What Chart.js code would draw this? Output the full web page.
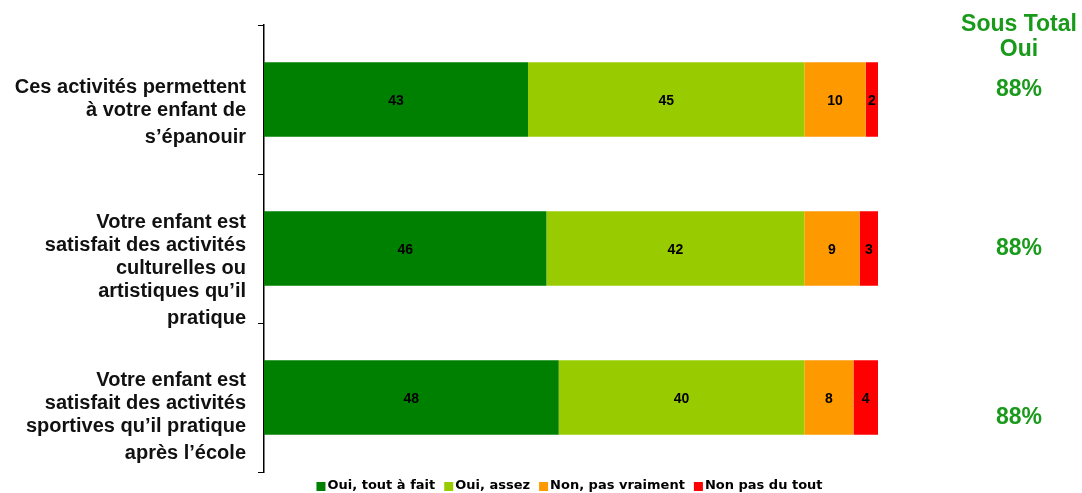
<!DOCTYPE html>
<html>
<head>
<meta charset="utf-8">
<script src="https://cdn.jsdelivr.net/npm/chart.js@4/dist/chart.umd.min.js"></script>
<style>
  html, body { margin: 0; padding: 0; background: #fff; }
  #wrap { width: 1082px; height: 493px; position: relative; }
</style>
</head>
<body>
<div id="wrap"><canvas id="chart"></canvas></div>
<script>
// Questions (category labels, one line per array entry)
const categories = [
    ['Ces activités permettent', 'à votre enfant de', 's’épanouir'],
    ['Votre enfant est', 'satisfait des activités', 'culturelles ou', 'artistiques qu’il', 'pratique'],
    ['Votre enfant est', 'satisfait des activités', 'sportives qu’il pratique', 'après l’école']
];

const seriesNames = ['Oui, tout à fait', 'Oui, assez', 'Non, pas vraiment', 'Non pas du tout'];
const ouiToutAFait = [43, 46, 48];
const ouiAssez = [45, 42, 40];
const nonPasVraiment = [10, 9, 8];
const nonPasDuTout = [2, 3, 4];

const sousTotalTitle = ['Sous Total', 'Oui'];
const sousTotalOui = ['88%', '88%', '88%'];

const colors = ['#008000', '#99CC00', '#FF9900', '#FF0000'];
const FONT = 'Arial, "Liberation Sans", sans-serif';

// category labels, "Sous Total Oui" column, value labels and the legend
const sidePlugin = {
    id: 'side',
    afterDraw(chart) {
        const ctx = chart.ctx;
        const y = chart.scales.y;
        const firstLine = [-12.5, -26.5, -17.5];
        ctx.save();
        ctx.fillStyle = '#111';
        ctx.textAlign = 'right';
        ctx.textBaseline = 'middle';
        ctx.font = 'bold 20px ' + FONT;
        categories.forEach((lines, i) => {
            const top = y.getPixelForValue(i) + firstLine[i];
            lines.forEach((line, j) => {
                const extra = j === lines.length - 1 ? 4 : 0;
                ctx.fillText(line, 246, top + j * 23 + extra);
            });
        });

        ctx.fillStyle = '#1a9a1a';
        ctx.textAlign = 'center';
        ctx.font = 'bold 23px ' + FONT;
        ctx.fillText(sousTotalTitle[0], 1019, 25);
        ctx.fillText(sousTotalTitle[1], 1019, 50);
        const offs = [-9.5, 0, 20.5];
        sousTotalOui.forEach((t, i) => {
            ctx.fillText(t, 1019, y.getPixelForValue(i) + offs[i]);
        });

        // value labels in the segments
        ctx.fillStyle = '#000';
        ctx.font = 'bold 14px ' + FONT;
        chart.data.datasets.forEach((ds, di) => {
            chart.getDatasetMeta(di).data.forEach((bar, i) => {
                const p = bar.getProps(['x', 'y', 'base'], true);
                ctx.fillText(String(ds.data[i]), (p.x + p.base) / 2, p.y + 1.5);
            });
        });

        // legend
        ctx.font = 'bold 13px "DejaVu Sans", Verdana, sans-serif';
        ctx.textAlign = 'left';
        const box = 9, gap = 2, sep = 9;
        const widths = seriesNames.map(n => box + gap + ctx.measureText(n).width);
        const total = widths.reduce((a, b) => a + b, 0) + sep * (widths.length - 1);
        let x = 569.5 - total / 2;
        const ly = 486;
        seriesNames.forEach((n, i) => {
            ctx.fillStyle = colors[i];
            ctx.fillRect(x, ly - 4, box, box);
            ctx.fillStyle = '#000';
            ctx.fillText(n, x + box + gap, ly);
            x += widths[i] + sep;
        });
        ctx.restore();
    }
};

const seriesData = [ouiToutAFait, ouiAssez, nonPasVraiment, nonPasDuTout];

new Chart(document.getElementById('chart'), {
    type: 'bar',
    data: {
        labels: categories.map(c => c.join(' ')),
        datasets: seriesNames.map((name, i) => ({
            label: name,
            data: seriesData[i],
            backgroundColor: colors[i],
            borderWidth: 0,
            categoryPercentage: 0.5,
            barPercentage: 1
        }))
    },
    options: {
        indexAxis: 'y',
        responsive: true,
        maintainAspectRatio: false,
        animation: false,
        layout: { padding: { left: 258, right: 204, top: 25, bottom: 21 } },
        scales: {
            x: {
                stacked: true,
                min: 0,
                max: 100,
                display: false
            },
            y: {
                stacked: true,
                offset: true,
                grid: {
                    offset: true,
                    drawOnChartArea: false,
                    drawTicks: true,
                    tickLength: 6,
                    color: '#000'
                },
                border: { display: true, color: '#000', width: 1.5 },
                ticks: { display: false }
            }
        },
        plugins: {
            legend: { display: false },
            tooltip: { enabled: false }
        }
    },
    plugins: [sidePlugin]
});
</script>
</body>
</html>
